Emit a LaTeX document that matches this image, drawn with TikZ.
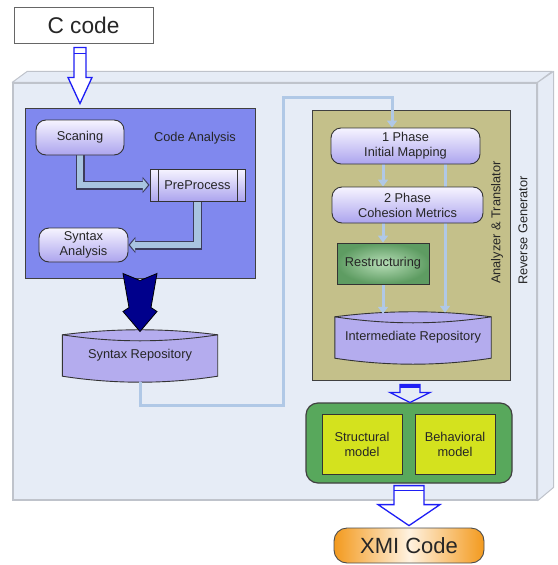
\documentclass[tikz,border=0pt]{standalone}
\usepackage{fontspec}
\setmainfont{Liberation Sans}
\usepackage{tikz}
\usetikzlibrary{arrows.meta,backgrounds}
\definecolor{rgface}{HTML}{E6ECF6}
\definecolor{rgedge}{HTML}{BFC3CB}
\definecolor{cablue}{HTML}{8088EE}
\definecolor{anolive}{HTML}{C4C08A}
\definecolor{lav}{HTML}{B4ACEE}
\definecolor{lavtop}{HTML}{F6F4FF}
\definecolor{lavbot}{HTML}{ACA4EE}
\definecolor{linkblue}{HTML}{B0C8E6}
\definecolor{fatfill}{HTML}{A8C4E0}
\definecolor{fatedge}{HTML}{3C3C5C}
\definecolor{gbgreen}{HTML}{58A85C}
\definecolor{rsin}{HTML}{B6DDB6}
\definecolor{rsout}{HTML}{5E9C62}
\definecolor{modfill}{HTML}{D4E21E}
\definecolor{arrblue}{HTML}{1E1EF5}
\definecolor{navyfill}{HTML}{00008C}
\definecolor{orng}{HTML}{F39A1E}
\definecolor{cream}{HTML}{FFF2E0}
\definecolor{txt}{HTML}{262626}
\pgfdeclarelayer{boxlayer}
\pgfdeclarelayer{edgelayer}
\pgfdeclarelayer{nodelayer}
\pgfsetlayers{boxlayer,edgelayer,nodelayer,main}
\tikzstyle{none}=[inner sep=0pt]
\tikzstyle{plain}=[inner sep=0pt, text=txt, font=\fontsize{12.8}{15}\selectfont]
\tikzstyle{box}=[rectangle, draw=black!75, line width=1pt, inner sep=0pt]
\tikzstyle{side}=[draw=rgedge, fill=rgface, line width=1pt, line join=round]
\tikzstyle{phase}=[rectangle, rounded corners=10pt, draw=black!80, line width=0.9pt, top color=lavtop, bottom color=lavbot, text=txt, align=center, inner sep=0pt, font=\fontsize{12.8}{15}\selectfont]
\tikzstyle{predef}=[phase, sharp corners, path picture={\draw[black!80, line width=0.9pt] ([xshift=8pt]path picture bounding box.north west) -- ([xshift=8pt]path picture bounding box.south west) ([xshift=-8pt]path picture bounding box.north east) -- ([xshift=-8pt]path picture bounding box.south east);}]
\tikzstyle{greenbox}=[rectangle, draw=black!80, line width=0.9pt, inner color=rsin, outer color=rsout, text=txt, inner sep=0pt, font=\fontsize{12.8}{15}\selectfont]
\tikzstyle{store}=[inner sep=0pt, text=txt, minimum height=41pt, font=\fontsize{12.8}{15}\selectfont]
\tikzstyle{repo}=[draw=black!80, line width=0.9pt, fill=lav]
\tikzstyle{model}=[rectangle, draw=black!80, line width=1pt, fill=modfill, align=center, inner sep=0pt, minimum width=80pt, minimum height=60pt, text=txt, font=\fontsize{12.8}{15}\selectfont]
\tikzstyle{xmibox}=[rectangle, rounded corners=13pt, draw=black!70, line width=0.9pt, left color=orng, right color=orng, middle color=cream, text=txt, inner sep=0pt, font=\fontsize{22}{26}\selectfont]
\tikzstyle{link}=[draw=linkblue, line width=3pt, -{Triangle[length=7pt,width=10pt]}]
\tikzstyle{fatout}=[draw=fatedge, line width=9pt, -{Triangle[length=7pt,width=16pt]}]
\tikzstyle{fatin}=[draw=fatfill, line width=6.6pt, shorten >=1.6pt, -{Triangle[length=5pt,width=12pt]}]
\tikzstyle{hollow}=[draw=arrblue, line width=1.3pt, fill=white, line join=miter]
\tikzstyle{bigarrow}=[draw=black, line width=0.8pt, fill=navyfill, line join=miter]

\begin{document}
\begin{tikzpicture}[x=1pt, y=-1pt]
	\useasboundingbox (0,0) rectangle (557,565);
	\begin{pgfonlayer}{boxlayer}
		\node [style=box, draw=rgedge, fill=rgface, line width=1.4pt, minimum width=524pt, minimum height=417pt] (rg) at (275, 291.5) {};
		\draw [style=side] (rg.north west) -- ++(15,-11) -- ++(525,0) -- (rg.north east) -- cycle;
		\draw [style=side] (rg.north east) -- ++(16,-11) -- ++(0,416) -- (rg.south east) -- cycle;
		\node [style=box, fill=cablue, minimum width=230pt, minimum height=170pt] (ca) at (140, 193) {};
		\node [style=box, fill=anolive, minimum width=198pt, minimum height=270pt] (an) at (411, 245) {};
		\node [style=box, rounded corners=12pt, fill=gbgreen, line width=1.2pt, minimum width=206pt, minimum height=80pt] (gb) at (409, 443) {};
	\end{pgfonlayer}
	\begin{pgfonlayer}{nodelayer}
		\node [style=box, fill=white, draw=black!60, minimum width=139pt, minimum height=36pt, text=txt, font=\fontsize{22.7}{26}\selectfont] (cc) at (83.5, 25) {C code};
		\node [style=plain] (cat) at (195, 138) {Code Analysis};
		\node [style=phase, minimum width=88pt, minimum height=35pt] (sc) at (80, 137.5) {Scaning};
		\node [style=predef, minimum width=95pt, minimum height=32pt] (pp) at (197.5, 185) {PreProcess};
		\node [style=phase, minimum width=89pt, minimum height=34pt] (sa) at (83.5, 245) {Syntax\\Analysis};
		\node [style=store, minimum width=155pt] (sr) at (140, 355.5) {Syntax Repository};
		\node [style=phase, minimum width=149pt, minimum height=36pt] (p1) at (405.5, 146) {1 Phase\\Initial Mapping};
		\node [style=phase, minimum width=151pt, minimum height=36pt] (p2) at (407.5, 205) {2 Phase\\Cohesion Metrics};
		\node [style=greenbox, minimum width=92pt, minimum height=41pt] (rs) at (383, 263.5) {Restructuring};
		\node [style=store, minimum width=156pt] (ir) at (413, 337.5) {Intermediate Repository};
		\node [style=plain, rotate=90] (ant) at (497, 222.5) {Analyzer \& Translator};
		\node [style=plain, rotate=90] (rgt) at (523, 230.5) {Reverse Generator};
		\node [style=model] (sm) at (362, 444) {Structural\\model};
		\node [style=model] (bm) at (455, 444) {Behavioral\\model};
		\node [style=xmibox, minimum width=150pt, minimum height=35pt] (xmi) at (409, 545.5) {XMI Code};
	\end{pgfonlayer}
	\begin{pgfonlayer}{edgelayer}
		\draw [style=repo] (sr.north west) .. controls +(52,-6.7) and +(-52,-6.7) .. (sr.north east) -- (sr.south east) .. controls +(-52,8) and +(52,8) .. (sr.south west) -- cycle;
		\draw [style=repo, fill=none] (sr.north west) .. controls +(52,8) and +(-52,8) .. (sr.north east);
		\draw [style=repo] (ir.north west) .. controls +(52,-6.7) and +(-52,-6.7) .. (ir.north east) -- (ir.south east) .. controls +(-52,8) and +(52,8) .. (ir.south west) -- cycle;
		\draw [style=repo, fill=none] (ir.north west) .. controls +(52,8) and +(-52,8) .. (ir.north east);
		\draw [style=fatout] (sc.south) |- (pp.west);
		\draw [style=fatin] (sc.south) |- (pp.west);
		\draw [style=fatout] (pp.south) |- (sa.east);
		\draw [style=fatin] (pp.south) |- (sa.east);
		\coordinate (turn) at (283, 97);
		\draw [style=link] ([yshift=-6pt]sr.south) -- ++(0,23) -| (turn) -| ([xshift=-13.5pt]p1.north);
		\draw [style=link] (p1.south -| rs.north) -- (p2.north -| rs.north);
		\draw [style=link] (p2.south -| rs.north) -- (rs.north);
		\draw [style=link] (rs.south) -- ([yshift=3pt]ir.north -| rs.south);
		\draw [style=link] ([xshift=32pt]ir.north |- p1.south) -- ([xshift=32pt,yshift=4pt]ir.north);
	\end{pgfonlayer}
	\draw [style=bigarrow] ([xshift=-17pt,yshift=5pt]ca.south) -- ++(17,7) -- ++(17,-7) -- ++(-6,34) -- ++(6,4) -- ++(-17,20) -- ++(-17,-20) -- ++(6,-4) -- cycle;
	\draw [style=hollow] ([xshift=-9.5pt,yshift=-4pt]cc.south) -- ++(0,30) -- ++(-6,0) -- ++(12,26) -- ++(12,-26) -- ++(-6,0) -- ++(0,-30) -- cycle;
	\draw [style=hollow] ([xshift=-9.5pt,yshift=-10pt]cc.south) -- ++(12,0);
	\draw [style=hollow, fill=rgface] ([xshift=-11pt,yshift=-4pt]an.south) -- ++(0,8) -- ++(-10,0) -- ++(20,10) -- ++(20,-10) -- ++(-10,0) -- ++(0,-8) -- cycle;
	\fill [arrblue] ([xshift=-11pt,yshift=-4pt]an.south) rectangle ++(20,3);
	\draw [style=hollow] ([xshift=-15pt,yshift=-2pt]gb.south) -- ++(0,19) -- ++(-16,0) -- ++(31,21) -- ++(31,-21) -- ++(-16,0) -- ++(0,-19) -- cycle;
	\draw [style=hollow] ([xshift=-15pt,yshift=-7pt]gb.south) -- ++(30,0);
\end{tikzpicture}
\end{document}
